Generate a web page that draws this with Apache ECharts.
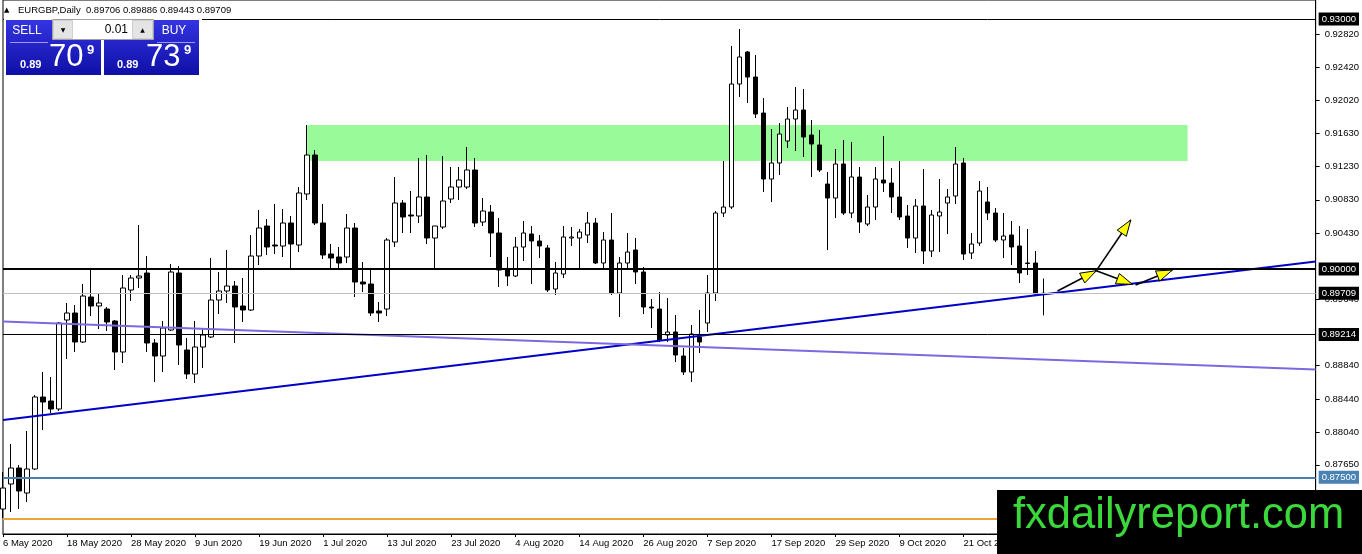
<!DOCTYPE html>
<html><head><meta charset="utf-8">
<script src="https://cdn.jsdelivr.net/npm/echarts@6/dist/echarts.min.js"></script>
<style>html,body{margin:0;padding:0;background:#fff}#c{width:1362px;height:554px}</style>
</head><body><div id="c"></div>
<script>
// ---- data ----
const startDate = [2020, 4, 6];      // 6 May 2020, daily bars Mon-Fri
const futureBars = 34;               // empty space right of last bar

const opens = [
0.8712,0.8742,0.87612,0.87312,0.876,0.88464,0.88416,0.8832,0.89388,0.89472,
0.89124,0.89664,0.89556,0.8952,0.89376,0.89004,0.89748,0.89892,0.89952,0.89112,
0.88956,0.89268,0.89952,0.89028,0.8874,0.89064,0.89184,0.89628,0.89736,0.89796,
0.89556,0.89508,0.90156,0.90516,0.90288,0.90276,0.90552,0.90288,0.909,0.91368,
0.90552,0.9018,0.90144,0.90144,0.90492,0.89844,0.8982,0.89496,0.8952,0.90324,
0.90792,0.90648,0.90636,0.90864,0.90372,0.90504,0.9084,0.90984,0.90984,0.91188,
0.90564,0.90684,0.90432,0.89988,0.89916,0.90264,0.9042,0.90336,0.90252,0.8976,
0.8994,0.90372,0.90372,0.90408,0.90552,0.90072,0.90348,0.89712,0.90072,0.90228,
0.89964,0.89544,0.8952,0.89208,0.89244,0.88956,0.88764,0.89184,0.89352,0.89712,
0.90672,0.90744,0.9222,0.92604,0.92304,0.91872,0.9108,0.91272,0.91536,0.918,
0.91908,0.91608,0.91488,0.9102,0.90852,0.9126,0.90672,0.91104,0.9054,0.90744,
0.91068,0.91032,0.90864,0.90636,0.90372,0.90756,0.90216,0.90636,0.90792,0.90876,
0.91272,0.90192,0.90312,0.90804,0.90672,0.90348,0.90408,0.90276,0.90072,0.90072,
0.89706];
const highs = [
0.87564,0.879,0.87648,0.88056,0.88488,0.88764,0.88704,0.89364,0.89592,0.89568,
0.8982,0.9,0.897,0.89544,0.89388,0.89928,0.89928,0.90528,0.90156,0.8916,
0.89376,0.9006,0.90036,0.89172,0.89376,0.89292,0.90132,0.89964,0.90228,0.89856,
0.89892,0.90408,0.90708,0.906,0.9078,0.9072,0.90636,0.90984,0.91728,0.91428,
0.9078,0.903,0.90264,0.9066,0.90552,0.90084,0.9,0.89604,0.90372,0.91104,
0.90828,0.90936,0.91332,0.91368,0.90516,0.91356,0.91224,0.91224,0.91464,0.91332,
0.90852,0.90768,0.90612,0.90144,0.90384,0.90576,0.90516,0.90408,0.90288,0.90084,
0.90516,0.90504,0.9048,0.90684,0.90612,0.90444,0.90672,0.90144,0.90432,0.90372,
0.90024,0.8964,0.89724,0.89652,0.89448,0.89052,0.89328,0.89508,0.89928,0.90696,
0.91296,0.92676,0.9288,0.92616,0.92568,0.92052,0.9168,0.91752,0.91944,0.92184,
0.9216,0.91788,0.91668,0.91164,0.9144,0.91548,0.91524,0.91224,0.90888,0.91224,
0.91596,0.91212,0.91296,0.90768,0.9084,0.912,0.90708,0.9108,0.9096,0.91464,
0.91332,0.90432,0.91056,0.90984,0.90732,0.90672,0.90576,0.90516,0.9048,0.90216,
0.89886];
const lows = [
0.87012,0.87084,0.8712,0.87204,0.87588,0.88068,0.88272,0.88296,0.8892,0.89004,
0.89112,0.89436,0.8928,0.89256,0.88788,0.88872,0.89616,0.89772,0.89004,0.88644,
0.88764,0.89256,0.88848,0.8868,0.88632,0.88812,0.89172,0.8946,0.89592,0.89112,
0.89364,0.89496,0.90048,0.90168,0.9018,0.90144,0.9,0.90204,0.90828,0.90528,
0.9012,0.90012,0.90012,0.90072,0.89664,0.89724,0.89436,0.89364,0.89436,0.90264,
0.90432,0.90432,0.90552,0.903,0.90012,0.9048,0.90792,0.90828,0.9096,0.90504,
0.90516,0.90144,0.89784,0.89796,0.89904,0.90096,0.8982,0.90132,0.89724,0.89688,
0.89892,0.90276,0.90012,0.90312,0.9006,0.90012,0.89688,0.89424,0.90012,0.8982,
0.8946,0.89292,0.89124,0.89124,0.88884,0.88728,0.88644,0.88992,0.89244,0.89616,
0.90624,0.9072,0.92064,0.91992,0.91812,0.90924,0.90804,0.91128,0.91452,0.91416,
0.91344,0.91104,0.91164,0.90228,0.90612,0.90648,0.90612,0.90432,0.90516,0.90588,
0.90924,0.90672,0.90588,0.90252,0.90192,0.9006,0.90144,0.90204,0.9042,0.9078,
0.90108,0.9012,0.90276,0.90588,0.90324,0.90132,0.90048,0.89832,0.89928,0.89688,
0.89443];
const closes = [
0.87372,0.87612,0.87336,0.876,0.88464,0.88404,0.8832,0.89352,0.89472,0.89124,
0.89676,0.89556,0.89592,0.89364,0.89004,0.89772,0.89892,0.89916,0.89112,0.88956,
0.89292,0.89964,0.89088,0.8874,0.89064,0.89208,0.89628,0.89736,0.89796,0.89544,
0.89508,0.90156,0.90492,0.90264,0.90276,0.90552,0.903,0.90912,0.91368,0.90552,
0.90168,0.90132,0.90072,0.90492,0.89844,0.8982,0.89472,0.89472,0.90348,0.90792,
0.90624,0.90636,0.90864,0.90372,0.90516,0.90816,0.90984,0.91068,0.91188,0.90552,
0.90696,0.90432,0.89988,0.89916,0.90264,0.90432,0.90336,0.90276,0.89748,0.89952,
0.90384,0.90384,0.90444,0.90552,0.90072,0.90348,0.89712,0.90072,0.90204,0.89964,
0.89544,0.89532,0.89148,0.89244,0.88968,0.88764,0.8922,0.89124,0.89712,0.90672,
0.90744,0.9222,0.92544,0.92304,0.9186,0.9108,0.91272,0.9162,0.918,0.91908,
0.91584,0.915,0.91188,0.90852,0.9126,0.90672,0.91104,0.90564,0.90744,0.9108,
0.91032,0.90864,0.90624,0.90372,0.90756,0.90216,0.90648,0.90684,0.90864,0.9126,
0.9018,0.903,0.90936,0.90672,0.90348,0.90396,0.90264,0.89952,0.90066,0.897,
0.89709];

const yTickValues = [0.9282,0.9242,0.9202,0.9163,0.9123,0.9083,0.9043,0.8964,0.8884,0.8844,0.8804,0.8765];
const levelValues = [0.93, 0.9, 0.89709, 0.89214, 0.875, 0.87];
const trendBlue = [[0, 0.88188], [164, 0.90091]];
const trendPurple = [[0, 0.8937], [164, 0.88794]];
const zone = [[38, 0.91728, 148, 0.91296]];
const arrows = [
  [131.75, 0.89736, 136.6, 0.8998],
  [136.6, 0.8998, 140.9, 0.90588],
  [136.6, 0.8998, 141.1, 0.89816],
  [141.5, 0.89808, 146.1, 0.89988]
];
const header = 'EURGBP,Daily  0.89706 0.89886 0.89443 0.89709';

// ---- build ----
const months = ['Jan','Feb','Mar','Apr','May','Jun','Jul','Aug','Sep','Oct','Nov','Dec'];
const dates = [];
const d = new Date(Date.UTC(startDate[0], startDate[1], startDate[2]));
while (dates.length < opens.length + futureBars) {
  const wd = d.getUTCDay();
  if (wd !== 0 && wd !== 6) dates.push(d.getUTCDate() + ' ' + months[d.getUTCMonth()] + ' ' + d.getUTCFullYear());
  d.setUTCDate(d.getUTCDate() + 1);
}
const candleData = opens.map((o, i) => [o, closes[i], lows[i], highs[i]]);

const FONT = '"Liberation Sans", Arial, sans-serif';
const levelStyles = [
  {color:'#000000', width:1, bg:'#000000'},
  {color:'#000000', width:2, bg:'#000000'},
  {color:'#c0c0c0', width:1, bg:'#000000'},
  {color:'#000000', width:1, bg:'#000000'},
  {color:'#4a7fae', width:2, bg:'#4a82b4'},
  {color:'#eba53b', width:2, bg:null}
];

const chart = echarts.init(document.getElementById('c'), null, {renderer:'canvas'});
const grad = () => new echarts.graphic.LinearGradient(0,0,0,1,[{offset:0,color:'#3434e2'},{offset:1,color:'#0f0fa6'}]);
const txt = (x, y, text, font, fill, align, z) => ({type:'text', x, y, z: z||101,
  style:{text, font, fill, align: align||'left', verticalAlign:'middle'}});

chart.setOption({
  animation: false,
  backgroundColor: '#ffffff',
  grid: {left:3, right:46, top:0, bottom:20, show:true, borderColor:'#000', borderWidth:1},
  xAxis: [
    {type:'category', data: dates, boundaryGap:false,
     axisLine:{onZero:false, lineStyle:{color:'#000', width:1}},
     axisTick:{show:true, interval:7, length:3, lineStyle:{color:'#000'}},
     axisLabel:{interval:7, align:'left', margin:4, color:'#000', fontSize:9.5, fontFamily:FONT},
     splitLine:{show:false}},
    {type:'value', min:0, max: dates.length - 1, show:false}
  ],
  yAxis: {type:'value', position:'right', min:0.8682, max:0.93228, scale:true,
    axisLine:{show:true, onZero:false, lineStyle:{color:'#000'}},
    axisTick:{show:true, length:4, customValues: yTickValues, lineStyle:{color:'#000'}},
    axisLabel:{customValues: yTickValues, margin:9, color:'#000', fontSize:9.5, fontFamily:FONT,
      formatter: v => Number(v).toFixed(5)},
    splitLine:{show:false}},
  series: [
    {type:'custom', name:'zone', xAxisIndex:1, z:1, silent:true, data: zone,
     encode:{x:[0,2], y:[1,3]},
     renderItem: (params, api) => {
       const a = api.coord([api.value(0), api.value(1)]);
       const b = api.coord([api.value(2), api.value(3)]);
       return {type:'rect', shape:{x:Math.min(a[0],b[0]), y:Math.min(a[1],b[1]), width:Math.abs(b[0]-a[0]), height:Math.abs(b[1]-a[1])},
         style:{fill:'#98fa98'}};
     }},
    {type:'candlestick', name:'EURGBP', data: candleData, barWidth:5, z:3,
     itemStyle:{color:'#ffffff', color0:'#000000', borderColor:'#000000', borderColor0:'#000000', borderWidth:1},
     markLine:{silent:true, symbol:['none','none'], animation:false, precision:5,
       data: levelValues.map((v, i) => ({
         yAxis: v,
         lineStyle:{color: levelStyles[i].color, width: levelStyles[i].width, type:'solid'},
         label:{show: levelStyles[i].bg !== null, position:'end', distance:3,
           formatter: () => v.toFixed(5), color:'#fff', backgroundColor: levelStyles[i].bg || 'transparent',
           padding:[2,3,1,3], fontSize:9.5, fontFamily:FONT}
       }))}},
    {type:'line', name:'trend up', xAxisIndex:1, data: trendBlue, symbol:'none', z:4, silent:true,
     lineStyle:{color:'#0000c8', width:2}},
    {type:'line', name:'trend down', xAxisIndex:1, data: trendPurple, symbol:'none', z:4, silent:true,
     lineStyle:{color:'#7a6ae0', width:2}},
    {type:'custom', name:'arrows', xAxisIndex:1, z:5, silent:true, data: arrows,
     encode:{x:[0,2], y:[1,3]},
     renderItem: (params, api) => {
       const p1 = api.coord([api.value(0), api.value(1)]);
       const p2 = api.coord([api.value(2), api.value(3)]);
       const dx = p2[0]-p1[0], dy = p2[1]-p1[1], len = Math.hypot(dx, dy);
       const ux = dx/len, uy = dy/len, L = 16, W = 5.5;
       const bx = p2[0]-ux*L, by = p2[1]-uy*L;
       return {type:'group', children:[
         {type:'line', shape:{x1:p1[0], y1:p1[1], x2:p2[0], y2:p2[1]}, style:{stroke:'#000', lineWidth:1.6}},
         {type:'polygon', shape:{points:[[p2[0],p2[1]],[bx-uy*W, by+ux*W],[bx+uy*W, by-ux*W]]},
          style:{fill:'#ffff00', stroke:'#000', lineWidth:1}}
       ]};
     }}
  ],
  graphic: [
    txt(4, 10, '▲', '7px "DejaVu Sans"', '#000'),
    txt(18, 10, header, '9.5px ' + FONT, '#000'),
    {type:'rect', z:100, shape:{x:4, y:17, width:198, height:61}, style:{fill:'#fff'}},
    {type:'rect', z:100, shape:{x:6, y:20, width:95, height:55}, style:{fill: grad()}},
    {type:'rect', z:100, shape:{x:104, y:20, width:95, height:55}, style:{fill: grad()}},
    {type:'line', z:101, shape:{x1:10, y1:42.5, x2:48, y2:42.5}, style:{stroke:'#9a9af2', lineWidth:1}},
    {type:'line', z:101, shape:{x1:157, y1:42.5, x2:195, y2:42.5}, style:{stroke:'#9a9af2', lineWidth:1}},
    {type:'rect', z:101, shape:{x:52.5, y:19.5, width:101, height:20}, style:{fill:'#fff', stroke:'#a0a0a0', lineWidth:1}},
    {type:'rect', z:102, shape:{x:53.5, y:20.5, width:19, height:18}, style:{fill:'#e4e4e4', stroke:'#cfcfcf', lineWidth:1}},
    {type:'rect', z:102, shape:{x:132.5, y:20.5, width:20, height:18}, style:{fill:'#e4e4e4', stroke:'#cfcfcf', lineWidth:1}},
    txt(63, 30, '▼', '6px "DejaVu Sans"', '#000', 'center', 103),
    txt(142.5, 30, '▲', '6px "DejaVu Sans"', '#000', 'center', 103),
    txt(128, 30, '0.01', '12px ' + FONT, '#000', 'right', 103),
    txt(27, 30.5, 'SELL', '12px ' + FONT, '#fff', 'center'),
    txt(174, 30.5, 'BUY', '12px ' + FONT, '#fff', 'center'),
    txt(20, 65, '0.89', 'bold 11px ' + FONT, '#fff'),
    txt(49, 57.5, '70', '31px ' + FONT, '#fff'),
    txt(87, 50.5, '9', 'bold 13px ' + FONT, '#fff'),
    txt(117, 65, '0.89', 'bold 11px ' + FONT, '#fff'),
    txt(146, 57.5, '73', '31px ' + FONT, '#fff'),
    txt(184, 50.5, '9', 'bold 13px ' + FONT, '#fff'),
    {type:'rect', z:110, shape:{x:997, y:490, width:365, height:64}, style:{fill:'#000'}},
    txt(1013, 515.5, 'fxdailyreport.com', '43.5px ' + FONT, '#3bd83b', 'left', 111)
  ]
});
</script>
</body></html>
